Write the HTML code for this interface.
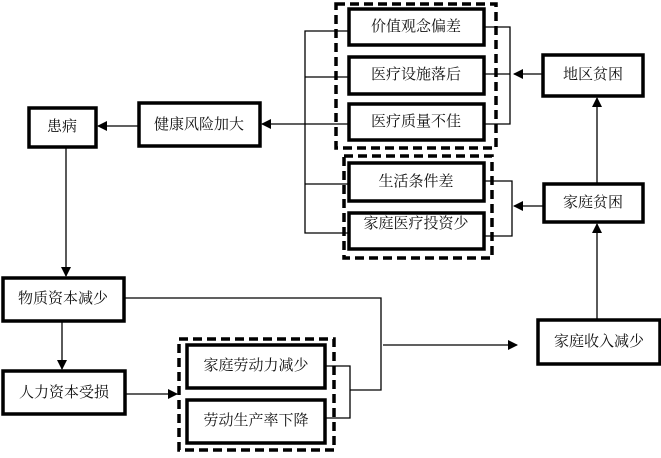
<!DOCTYPE html>
<html><head><meta charset="utf-8"><style>
html,body{margin:0;padding:0;background:#fff}
svg text{font-family:"Liberation Serif","Noto Serif CJK SC","Noto Sans CJK SC",serif;font-size:15px;fill:#111;text-anchor:middle;dominant-baseline:central}
</style></head><body>
<svg width="661" height="453" viewBox="0 0 661 453" xmlns="http://www.w3.org/2000/svg">
<defs><marker id="a" markerWidth="10" markerHeight="10" refX="9" refY="5" orient="auto" markerUnits="userSpaceOnUse"><path d="M0,0 L10,5 L0,10 z" fill="#000"/></marker></defs>
<g fill="none" stroke="#000" stroke-width="3.5" stroke-dasharray="9,5">
<rect x="336" y="4" width="160" height="144"/>
<rect x="344" y="156" width="148" height="102"/>
<rect x="179" y="339" width="155" height="111"/>
</g>
<g fill="#fff" stroke="#000" stroke-width="3.5">
<rect x="349" y="9" width="135" height="36"/>
<rect x="349" y="57" width="135" height="37"/>
<rect x="349" y="104" width="135" height="36"/>
<rect x="349" y="163" width="135" height="38"/>
<rect x="349" y="213" width="135" height="36"/>
<rect x="543" y="55" width="100" height="41"/>
<rect x="544" y="184" width="99" height="38"/>
<rect x="29" y="108" width="67" height="39"/>
<rect x="139" y="103" width="121" height="43"/>
<rect x="3" y="278" width="121" height="43"/>
<rect x="3" y="371" width="122" height="43"/>
<rect x="187" y="345" width="138" height="43"/>
<rect x="187" y="400" width="138" height="43"/>
<rect x="538" y="320" width="122" height="44"/>
</g>
<g fill="none" stroke="#000" stroke-width="1.3">
<path d="M349,31 H305 V233 H349 M305,77 H349 M305,184 H349 M280,124 H349"/>
<path d="M484,27 H510 V124 H484 M484,74 H510"/>
<path d="M484,181 H512 V236 H484"/>
<path d="M280,124 H262" marker-end="url(#a)"/>
<path d="M139,126 H98" marker-end="url(#a)"/>
<path d="M543,74 H514" marker-end="url(#a)"/>
<path d="M544,206 H514" marker-end="url(#a)"/>
<path d="M597,184 V98" marker-end="url(#a)"/>
<path d="M597,320 V224" marker-end="url(#a)"/>
<path d="M66,147 V276" marker-end="url(#a)"/>
<path d="M62,321 V369" marker-end="url(#a)"/>
<path d="M125,394 H177" marker-end="url(#a)"/>
<path d="M124,298 H381 V390 H350 M325,366 H350 V418 H325"/>
<path d="M383,345 H517" marker-end="url(#a)"/>
</g>
<text x="416" y="27">价值观念偏差</text>
<text x="416" y="75">医疗设施落后</text>
<text x="416" y="122">医疗质量不佳</text>
<text x="416" y="182">生活条件差</text>
<text x="416" y="224">家庭医疗投资少</text>
<text x="593" y="75">地区贫困</text>
<text x="593" y="203">家庭贫困</text>
<text x="62" y="127">患病</text>
<text x="199" y="125">健康风险加大</text>
<text x="63" y="299">物质资本减少</text>
<text x="64" y="393">人力资本受损</text>
<text x="256" y="366">家庭劳动力减少</text>
<text x="256" y="421">劳动生产率下降</text>
<text x="599" y="342">家庭收入减少</text>
</svg>
</body></html>
